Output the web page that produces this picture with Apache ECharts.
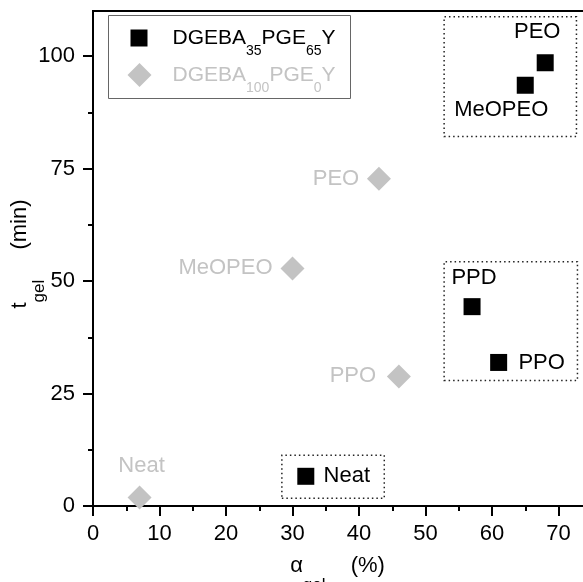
<!DOCTYPE html>
<html>
<head>
<meta charset="utf-8">
<script src="https://cdn.jsdelivr.net/npm/echarts@6/dist/echarts.min.js"></script>
<style>html,body{margin:0;padding:0;background:#fff;}#c{width:583px;height:582px;}</style>
</head>
<body>
<div id="c"></div>
<script>
// ---- data ----
const seriesNameA = 'DGEBA35PGE65Y';
const seriesNameB = 'DGEBA100PGE0Y';
const legendPartsA = [['DGEBA','m0'],['35','s'],['PGE','m'],['65','s'],['Y','m']];
const legendPartsB = [['DGEBA','m0'],['100','s'],['PGE','m'],['0','s'],['Y','m']];
const xNameParts = [['α','m'],['gel','s'],[' (%)','m0']];
const yNameParts = [['t','m'],['gel','s'],[' (min)','m0']];

const labelsA = ['Neat', 'MeOPEO', 'PEO', 'PPD', 'PPO'];
const alphaA  = [32, 65, 68, 57, 61];
const tgelA   = [6.6, 93.5, 98.5, 44.3, 31.9];

const labelsB = ['Neat', 'MeOPEO', 'PEO', 'PPO'];
const alphaB  = [7, 30, 43, 46];
const tgelB   = [1.9, 52.8, 72.7, 28.8];

const xTicks = [0, 10, 20, 30, 40, 50, 60, 70];
const yTicks = [0, 25, 50, 75, 100];
const yMinorTicks = [12.5, 37.5, 62.5, 87.5];

// dotted group boxes [ [x1,y1], [x2,y2] ] in data units
const groupBoxes = [
  [[52.8, 82.1], [72.7, 108.7]],
  [[52.8, 27.9], [72.85, 54.3]],
  [[28.4, 1.7], [43.8, 11.3]]
];

// ---- styles ----
const FONT = "'Liberation Sans', Arial, sans-serif";
const GRAY = '#c3c3c3';
const offsetsA = { Neat: [41, 0], MeOPEO: [-24, 25], PEO: [-8, -31], PPD: [2, -29], PPO: [43, 0] };
const offsetsB = { Neat: [2, -32], MeOPEO: [-67, 0], PEO: [-43, 0], PPO: [-46, 0] };

function richName(parts) {
  return parts.map(p => '{' + p[1] + '|' + p[0] + '}').join('');
}
function makeRich(color, mainSize, subSize, shift, lead) {
  return {
    m0: { fontSize: mainSize, lineHeight: 24, color: color, fontFamily: FONT, verticalAlign: 'middle', padding: [0, 0, 0, lead || 0] },
    m: { fontSize: mainSize, lineHeight: 24, color: color, fontFamily: FONT, verticalAlign: 'middle' },
    s: { fontSize: subSize, lineHeight: subSize, color: color, fontFamily: FONT, verticalAlign: 'middle', padding: [2 * shift, 0, 0, 0] }
  };
}

function points(labels, xs, ys, offsets) {
  return labels.map((n, i) => ({
    name: n,
    value: [xs[i], ys[i]],
    label: { offset: offsets[n] }
  }));
}

const chart = echarts.init(document.getElementById('c'), null, { renderer: 'canvas' });

const option = {
  backgroundColor: '#fff',
  animation: false,
  grid: {
    left: 93, top: 11, width: 532, height: 495,
    containLabel: false, outerBoundsMode: 'none',
    show: true, borderColor: '#000', borderWidth: 2, backgroundColor: 'transparent'
  },
  xAxis: {
    type: 'value', min: 0, max: 80, interval: 10,
    name: richName(xNameParts),
    nameLocation: 'middle', nameGap: 48, nameMoveOverlap: false,
    nameTextStyle: { rich: makeRich('#000', 22, 17, 19, 19), padding: [0, 43, 0, 0] },
    axisLine: { show: true, lineStyle: { color: '#000', width: 2 } },
    axisTick: { show: true, inside: false, length: 10, lineStyle: { color: '#000', width: 2 } },
    minorTick: { show: true, splitNumber: 2, length: 5, lineStyle: { color: '#000', width: 2 } },
    axisLabel: { fontSize: 22, color: '#000', fontFamily: FONT, margin: 17, customValues: xTicks },
    splitLine: { show: false }, minorSplitLine: { show: false }
  },
  yAxis: [{
    type: 'value', min: 0, max: 110, interval: 25,
    name: richName(yNameParts),
    nameLocation: 'middle', nameGap: 61, nameRotate: 90, nameMoveOverlap: false,
    nameTextStyle: { rich: makeRich('#000', 22, 17, 19, 24), padding: [0, 0, 0, 9] },
    axisLine: { show: true, lineStyle: { color: '#000', width: 2 } },
    axisTick: { show: true, length: 10, customValues: yTicks, lineStyle: { color: '#000', width: 2 } },
    axisLabel: { fontSize: 22, color: '#000', fontFamily: FONT, margin: 18, customValues: yTicks },
    splitLine: { show: false }
  }, {
    type: 'value', min: 0, max: 110, interval: 25, position: 'left', offset: 0,
    axisLine: { show: false },
    axisTick: { show: true, length: 5, customValues: yMinorTicks, lineStyle: { color: '#000', width: 2 } },
    axisLabel: { show: false },
    splitLine: { show: false }
  }],
  legend: [{
    data: [{ name: seriesNameA, icon: 'rect', itemStyle: { color: '#000', opacity: 1 } }],
    orient: 'vertical', left: 130.5, top: 18, padding: 0,
    itemWidth: 17, itemHeight: 17, selectedMode: false,
    formatter: () => richName(legendPartsA),
    textStyle: { rich: makeRich('#000', 21, 14, 13, 20) }
  }, {
    data: [{ name: seriesNameB, icon: 'diamond', itemStyle: { color: GRAY, opacity: 1 } }],
    orient: 'vertical', left: 127.5, top: 55, padding: 0,
    itemWidth: 24, itemHeight: 24, selectedMode: false,
    formatter: () => richName(legendPartsB),
    textStyle: { rich: makeRich(GRAY, 21, 14, 13, 16) }
  }],
  graphic: [{
    type: 'rect', silent: true, z: 100,
    shape: { x: 108.5, y: 15.5, width: 242, height: 83 },
    style: { fill: 'none', stroke: '#666', lineWidth: 1 }
  }],
  series: [{
    name: seriesNameB, type: 'scatter', symbol: 'diamond', symbolSize: 24,
    itemStyle: { color: GRAY, opacity: 1 },
    label: { show: true, position: 'inside', formatter: '{b}', color: GRAY, fontSize: 22, fontFamily: FONT },
    data: points(labelsB, alphaB, tgelB, offsetsB),
    z: 3
  }, {
    name: seriesNameA, type: 'scatter', symbol: 'rect', symbolSize: 17,
    itemStyle: { color: '#000', opacity: 1 },
    label: { show: true, position: 'inside', formatter: '{b}', color: '#000', fontSize: 22, fontFamily: FONT },
    data: points(labelsA, alphaA, tgelA, offsetsA),
    markArea: {
      silent: true,
      itemStyle: { color: 'rgba(0,0,0,0)', borderColor: '#222', borderWidth: 1.5, borderType: [1.5, 3], opacity: 1 },
      label: { show: false },
      data: groupBoxes.map(b => [{ coord: b[0] }, { coord: b[1] }])
    },
    z: 4
  }]
};
chart.setOption(option);
</script>
</body>
</html>
